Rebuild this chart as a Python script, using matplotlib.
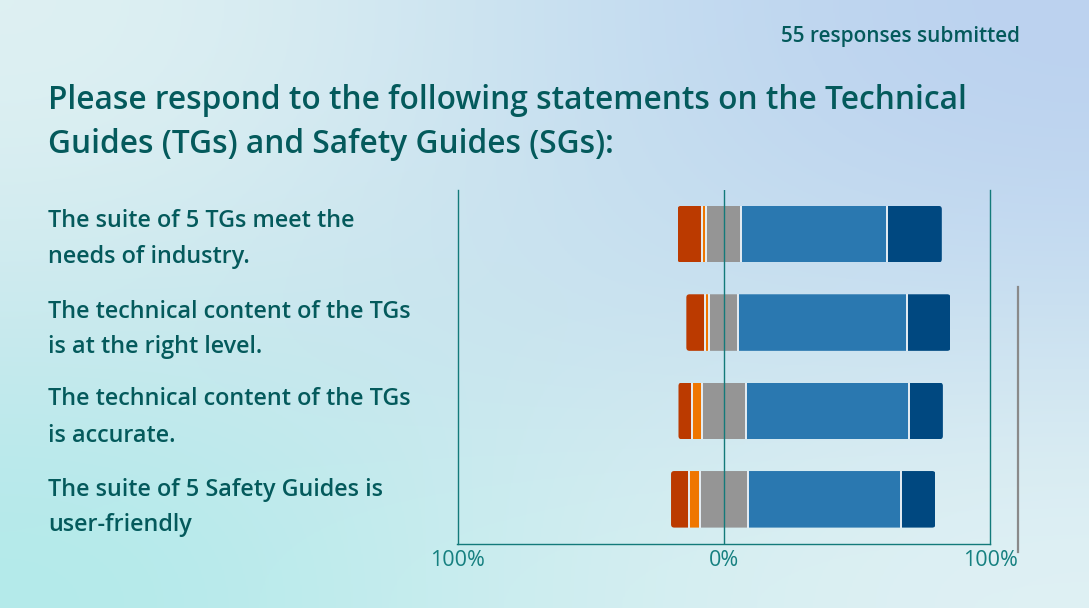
import numpy as np
import matplotlib
matplotlib.use("Agg")
import matplotlib.pyplot as plt
from matplotlib.patches import FancyBboxPatch

# ---------------- data ----------------
categories = [
    "The suite of 5 TGs meet the\nneeds of industry.",
    "The technical content of the TGs\nis at the right level.",
    "The technical content of the TGs\nis accurate.",
    "The suite of 5 Safety Guides is\nuser-friendly",
]
strongly_disagree = [9.0, 6.9, 5.0, 6.9]
disagree = [1.7, 1.7, 3.8, 3.8]
neutral = [13.2, 10.9, 16.4, 18.2]
agree = [54.7, 63.2, 61.3, 57.5]
strongly_agree = [20.6, 16.5, 12.8, 12.9]
tick_values = [-100, 0, 100]
tick_labels = ["100%", "0%", "100%"]
title_lines = ["Please respond to the following statements on the Technical",
               "Guides (TGs) and Safety Guides (SGs):"]
responses_text = "55 responses submitted"

# ---------------- style ----------------
W, H = 1089, 608
FONT = ["Open Sans", "DejaVu Sans"]
TXT = "#045a5c"
TEAL = "#137a7a"
seg_colors = ["#bb3a00", "#ef7600", "#959595", "#2a78b0", "#004880"]

fig = plt.figure(figsize=(W / 100, H / 100), dpi=100)

# background gradient
bg = fig.add_axes([0, 0, 1, 1], zorder=-10)
grid = np.array([
    [[223, 241, 243], [200, 225, 240], [187, 209, 240]],
    [[204, 233, 238], [200, 225, 238], [200, 223, 240]],
    [[178, 234, 234], [208, 238, 240], [224, 241, 244]],
], dtype=float) / 255.0
bg.imshow(grid, extent=[0, 1, 0, 1], aspect="auto", interpolation="bicubic",
          origin="upper")
bg.set_xlim(0, 1)
bg.set_ylim(0, 1)
bg.axis("off")

def fy(py):
    return 1 - py / H

def fx(px):
    return px / W

renderer = fig.canvas.get_renderer()

def fit(t, target_w):
    bb = t.get_window_extent(renderer=renderer)
    t.set_fontsize(t.get_fontsize() * target_w / bb.width)

# title
t1 = fig.text(fx(48), fy(109.3), title_lines[0], family=FONT, weight="semibold",
              color=TXT, fontsize=20, va="baseline", ha="left")
fit(t1, 914)
t2 = fig.text(fx(48), fy(153.3), title_lines[1], family=FONT, weight="semibold",
              color=TXT, fontsize=t1.get_fontsize(), va="baseline", ha="left")

# responses
tr = fig.text(fx(1020), fy(42.3), responses_text, family=FONT, weight="semibold",
              color=TXT, fontsize=12, va="baseline", ha="right")
fit(tr, 239)

# category labels
baselines = [[226.7, 263.3], [317.7, 353.3], [405.0, 441.7], [496.0, 530.7]]
probe = fig.text(0, 0, "The technical content of the TGs", family=FONT,
                 weight="semibold", fontsize=14)
fit(probe, 367.7)
cat_fs = probe.get_fontsize()
probe.remove()
for cat, bls in zip(categories, baselines):
    for line, b in zip(cat.split("\n"), bls):
        fig.text(fx(48), fy(b), line, family=FONT, weight="semibold",
                 color=TXT, fontsize=cat_fs, va="baseline", ha="left")

# chart axes
left, right, top, bottom = 457.5, 990.0, 190.0, 543.5
ax = fig.add_axes([fx(left), fy(bottom), (right - left) / W, (bottom - top) / H])
ax.patch.set_alpha(0)
ax.set_xlim(-100, 100)
ax.set_ylim(len(categories) - 0.5, -0.5)

bar_h = 0.64
ypos = np.arange(len(categories))
px_per_x = (right - left) / 200.0
px_per_y = (bottom - top) / len(categories)
r_x = 3.2 / px_per_x
aspect = (3.2 / px_per_y) / r_x

series = [strongly_disagree, disagree, neutral, agree, strongly_agree]
for i, y in enumerate(ypos):
    start = -(strongly_disagree[i] + disagree[i] + neutral[i] / 2.0)
    vals = [s[i] for s in series]
    total = sum(vals)
    clip = FancyBboxPatch((start, y - bar_h / 2), total, bar_h,
                          boxstyle=f"round,pad=0,rounding_size={r_x}",
                          mutation_aspect=aspect, transform=ax.transData,
                          facecolor="none", edgecolor="none")
    ax.add_patch(clip)
    cum = start
    bounds = []
    for v, c in zip(vals, seg_colors):
        bars = ax.barh(y, v, left=cum, height=bar_h, color=c, linewidth=0,
                       zorder=3)
        for b in bars:
            b.set_clip_path(clip)
        cum += v
        bounds.append(cum)
    ax.vlines(bounds[:-1], y - bar_h / 2, y + bar_h / 2, color="#e6eef4",
              linewidth=1.4, zorder=4)

ax.axvline(0, color=TEAL, linewidth=1.0, zorder=5)
for s in ["left", "right", "bottom"]:
    ax.spines[s].set_color(TEAL)
    ax.spines[s].set_linewidth(1.0)
ax.spines["top"].set_visible(False)
ax.set_yticks([])
ax.set_xticks(tick_values)
ax.set_xticklabels(tick_labels)
ax.tick_params(axis="x", length=0, pad=5, colors="#168080")
for lab in ax.get_xticklabels():
    lab.set_family(FONT)
    lab.set_fontsize(10)
fig.canvas.draw()
lab0 = ax.get_xticklabels()[0]
scale = 55.0 / lab0.get_window_extent(renderer=renderer).width
for lab in ax.get_xticklabels():
    lab.set_fontsize(10 * scale)

# scrollbar-like gray line
fig.add_artist(plt.Line2D([fx(1018), fx(1018)], [fy(287), fy(552)],
                          color="#8a8a8a", linewidth=1.6))

fig.savefig("out.png", dpi=100)
